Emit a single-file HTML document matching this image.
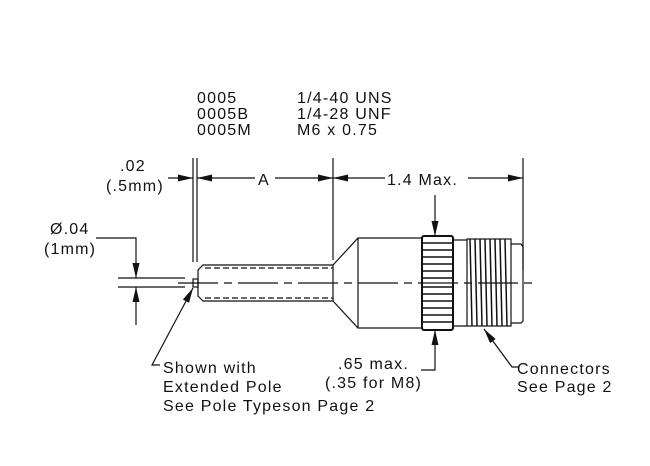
<!DOCTYPE html>
<html><head><style>
html,body{margin:0;padding:0;background:#fff;}
svg{display:block;}
text{font-family:"Liberation Sans",Arial,sans-serif;font-size:16px;letter-spacing:1.2px;fill:#111;}
</style></head><body>
<svg width="650" height="466" viewBox="0 0 650 466" xmlns="http://www.w3.org/2000/svg">
<defs>
<marker id="ar" viewBox="0 0 10 10" refX="10" refY="5" markerWidth="15" markerHeight="7" orient="auto-start-reverse" markerUnits="userSpaceOnUse" preserveAspectRatio="none"><path d="M0,0 L10,5 L0,10 Z" fill="#111"/></marker>
</defs>
<g stroke="#111" stroke-width="1.2" fill="none">
<line x1="178" y1="283" x2="535" y2="283" stroke-dasharray="40,6,8,6"/>
<path d="M203,265 L333,265 L333,301 L203,301 L198,296 L198,270 Z"/>
<line x1="205" y1="268" x2="333" y2="268" stroke-dasharray="6,3"/>
<line x1="205" y1="298" x2="333" y2="298" stroke-dasharray="6,3"/>
<rect x="193" y="279" width="5" height="8"/>
<path d="M333,265 L358,238 L422,238 M333,301 L358,328 L422,328 M358,238 L358,328"/>
<rect x="422" y="236" width="31" height="94" rx="2" stroke-width="2"/>
<g stroke-width="1.5">
<line x1="422" y1="243" x2="453" y2="243"/><line x1="422" y1="250" x2="453" y2="250"/><line x1="422" y1="257" x2="453" y2="257"/><line x1="422" y1="264" x2="453" y2="264"/><line x1="422" y1="271" x2="453" y2="271"/><line x1="422" y1="278" x2="453" y2="278"/><line x1="422" y1="287" x2="453" y2="287"/><line x1="422" y1="294" x2="453" y2="294"/><line x1="422" y1="301" x2="453" y2="301"/><line x1="422" y1="308" x2="453" y2="308"/><line x1="422" y1="315" x2="453" y2="315"/><line x1="422" y1="322" x2="453" y2="322"/>
</g>
<path d="M453,240 L467,240 M453,326 L467,326"/>
<rect x="467" y="239" width="44" height="87"/>
<g stroke-width="1.5">
<line x1="470" y1="239" x2="472" y2="326"/><line x1="475" y1="239" x2="477" y2="326"/><line x1="480" y1="239" x2="482" y2="326"/><line x1="485" y1="239" x2="487" y2="326"/><line x1="490" y1="239" x2="492" y2="326"/><line x1="495" y1="239" x2="497" y2="326"/><line x1="500" y1="239" x2="502" y2="326"/><line x1="505" y1="239" x2="507" y2="326"/>
</g>
<path d="M511,244 L521,244 L523,247 L523,321 L521,323 L511,323"/>
<line x1="193" y1="158" x2="193" y2="262"/>
<line x1="197" y1="158" x2="197" y2="262"/>
<line x1="333" y1="158" x2="333" y2="260"/>
<line x1="523" y1="158" x2="523" y2="270"/>
<line x1="168" y1="178" x2="193" y2="178" marker-end="url(#ar)"/>
<line x1="197" y1="178" x2="255" y2="178" marker-start="url(#ar)"/>
<line x1="275" y1="178" x2="333" y2="178" marker-end="url(#ar)"/>
<line x1="333" y1="178" x2="385" y2="178" marker-start="url(#ar)"/>
<line x1="468" y1="178" x2="523" y2="178" marker-end="url(#ar)"/>
<line x1="118" y1="278" x2="185" y2="278"/>
<line x1="118" y1="287" x2="185" y2="287"/>
<path d="M96,238 L136,238 L136,278" marker-end="url(#ar)"/>
<line x1="136" y1="325" x2="136" y2="287" marker-end="url(#ar)"/>
<line x1="435" y1="195" x2="435" y2="236" marker-end="url(#ar)"/>
<path d="M421,370 L435,370 L435,330" marker-end="url(#ar)"/>
<path d="M160,365 L152,365 L193,288" marker-end="url(#ar)"/>
<path d="M518,367 L512,367 L484,329" marker-end="url(#ar)"/>
</g>
<text x="197" y="103">0005</text><text x="297" y="103">1/4-40 UNS</text>
<text x="197" y="119">0005B</text><text x="297" y="119">1/4-28 UNF</text>
<text x="197" y="135">0005M</text><text x="297" y="135">M6 x 0.75</text>
<text x="120" y="171">.02</text>
<text x="106" y="191">(.5mm)</text>
<text x="258" y="185">A</text>
<text x="387" y="185">1.4 Max.</text>
<text x="50" y="234">Ø.04</text>
<text x="44" y="254">(1mm)</text>
<text x="163" y="373">Shown with</text>
<text x="163" y="392">Extended Pole</text>
<text x="163" y="411">See Pole Typeson Page 2</text>
<text x="338" y="369">.65 max.</text>
<text x="325" y="388">(.35 for M8)</text>
<text x="517" y="374">Connectors</text>
<text x="517" y="392">See Page 2</text>
</svg>
</body></html>
